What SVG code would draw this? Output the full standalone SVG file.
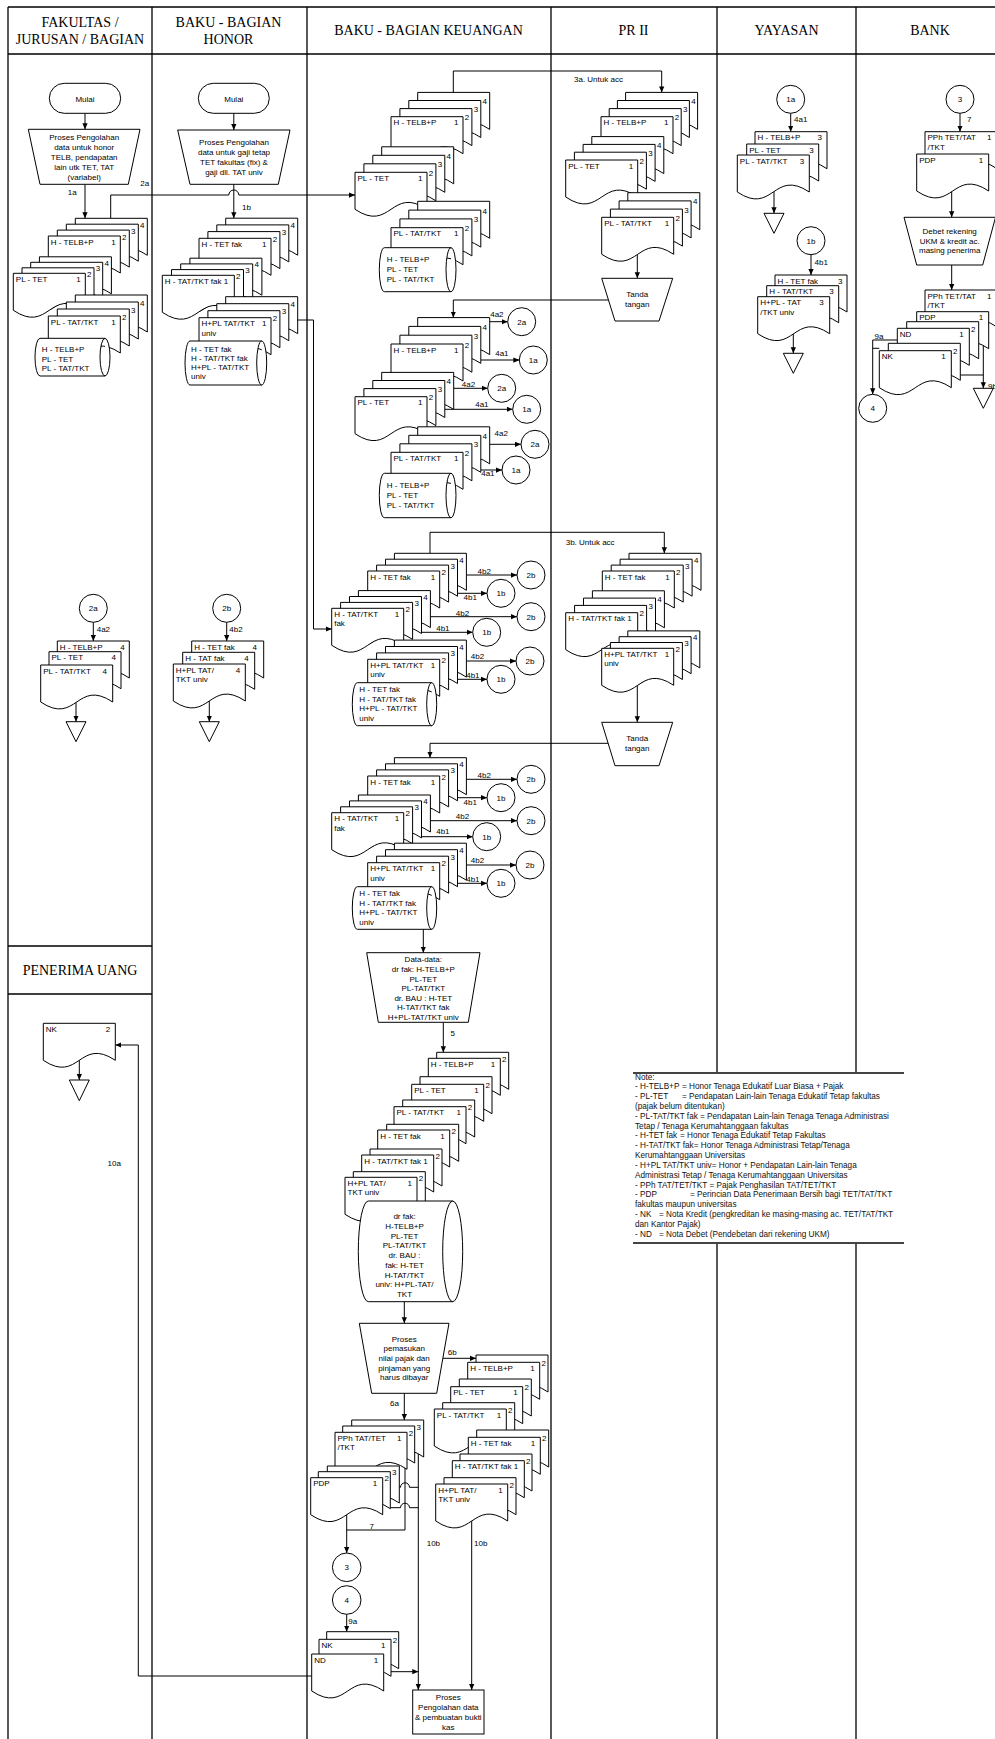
<svg xmlns="http://www.w3.org/2000/svg" width="995" height="1739" viewBox="0 0 995 1739">
<defs>
<style>
.ln{stroke:#000;stroke-width:1.3;fill:none}
.c{fill:none;stroke:#000;stroke-width:1}
.s{fill:#fff;stroke:#000;stroke-width:1}
.t{font-family:"Liberation Sans",Arial,sans-serif;font-size:8px;fill:#000}
.m{text-anchor:middle}
.e{text-anchor:end}
.h{font-family:"Liberation Serif","Times New Roman",serif;font-size:14px;text-anchor:middle;fill:#000}
.n{font-family:"Liberation Sans",Arial,sans-serif;font-size:8.2px;fill:#111}
</style>
<marker id="ah" viewBox="0 0 8 8" refX="8" refY="4" markerWidth="6" markerHeight="6" orient="auto" markerUnits="userSpaceOnUse"><path d="M0,0.5 L8,4 L0,7.5 z" fill="#000"/></marker>
<path id="pg" fill="#fff" stroke="#000" stroke-width="1" d="M0,0 H72 V37 C36,13 36,61 0,37 Z"/>
</defs>
<rect x="0" y="0" width="995" height="1739" fill="#fff"/>
<g id="lanes">
<path class="ln" d="M8,7 H1000 M8,54 H1000 M8,7 V1739 M152,7 V1739 M307,7 V1739 M551,7 V1739 M717,7 V1739 M856,7 V1739 M8,946 H152 M8,994 H152"/>
<text class="h" x="80" y="27">FAKULTAS /</text><text class="h" x="80" y="43.5">JURUSAN / BAGIAN</text>
<text class="h" x="228.5" y="27">BAKU - BAGIAN</text><text class="h" x="228.5" y="43.5">HONOR</text>
<text class="h" x="428.5" y="35">BAKU - BAGIAN KEUANGAN</text>
<text class="h" x="633.5" y="35">PR II</text>
<text class="h" x="786.5" y="35">YAYASAN</text>
<text class="h" x="930" y="35">BANK</text>
<text class="h" x="80" y="975">PENERIMA UANG</text>
</g>
<g id="note">
<rect x="633" y="1073" width="271" height="170" fill="#fff"/>
<path d="M633,1073 H904 M633,1243 H904" stroke="#444" stroke-width="1.8" fill="none"/>
<text class="n" x="635" y="1079.5">Note:</text>
<text class="n" y="1089.3"><tspan x="635">- H-TELB+P</tspan><tspan x="682">= Honor Tenaga Edukatif Luar Biasa + Pajak</tspan></text>
<text class="n" y="1099.1"><tspan x="635">- PL-TET</tspan><tspan x="682">= Pendapatan Lain-lain Tenaga Edukatif Tetap fakultas</tspan></text>
<text class="n" x="635" y="1109">(pajak belum ditentukan)</text>
<text class="n" x="635" y="1118.8">- PL-TAT/TKT fak = Pendapatan Lain-lain Tenaga Tenaga Administrasi</text>
<text class="n" x="635" y="1128.6">Tetap / Tenaga Kerumahtanggaan fakultas</text>
<text class="n" y="1138.4"><tspan x="635">- H-TET fak</tspan><tspan x="680">= Honor Tenaga Edukatif Tetap Fakultas</tspan></text>
<text class="n" x="635" y="1148.2">- H-TAT/TKT fak= Honor Tenaga Administrasi Tetap/Tenaga</text>
<text class="n" x="635" y="1158.1">Kerumahtanggaan Universitas</text>
<text class="n" x="635" y="1167.9">- H+PL TAT/TKT univ= Honor + Pendapatan Lain-lain Tenaga</text>
<text class="n" x="635" y="1177.7">Administrasi Tetap / Tenaga Kerumahtanggaan Universitas</text>
<text class="n" x="635" y="1187.5">- PPh TAT/TET/TKT = Pajak Penghasilan TAT/TET/TKT</text>
<text class="n" y="1197.3"><tspan x="635">- PDP</tspan><tspan x="690">= Perincian Data Penerimaan Bersih bagi TET/TAT/TKT</tspan></text>
<text class="n" x="635" y="1207.2">fakultas maupun universitas</text>
<text class="n" y="1217"><tspan x="635">- NK</tspan><tspan x="659">= Nota Kredit (pengkreditan ke masing-masing ac. TET/TAT/TKT</tspan></text>
<text class="n" x="635" y="1226.8">dan Kantor Pajak)</text>
<text class="n" y="1236.6"><tspan x="635">- ND</tspan><tspan x="659">= Nota Debet (Pendebetan dari rekening UKM)</tspan></text>
</g>
<g id="connectors">
<g class="c" marker-end="url(#ah)">
<path d="M85,113.3 V129.3"/>
<path d="M85,184.3 V218.3"/>
<path d="M110.7,218.3 V195 H228.8 A5,5 0 0 1 238.8,195 H355"/>
<path d="M233.8,113.3 V130"/>
<path d="M233.8,184.3 V218.2"/>
<path d="M297.7,320 H313.5 V629 H331.7"/>
<path d="M453.3,92.4 V71 H661.7 V92.4"/>
<path d="M637.3,252 V278.3"/>
<path d="M612,300 H453.3 V317.6"/>
<path d="M489.7,321.7 H507.7"/>
<path d="M480.8,360 H519.3"/>
<path d="M453.7,388.3 H487.7"/>
<path d="M444.8,409.3 H512.7"/>
<path d="M489.7,444.3 H521"/>
<path d="M480.8,470 H502"/>
<path d="M430,553.3 V532.3 H664.3 V553.3"/>
<path d="M466.4,575 H517"/>
<path d="M457.5,593.3 H487"/>
<path d="M430.4,616.7 H517"/>
<path d="M421.5,632.3 H472.7"/>
<path d="M466.4,661 H516"/>
<path d="M457.5,679.3 H487"/>
<path d="M637.3,684 V722.3"/>
<path d="M612,743.3 H430 V757.7"/>
<path d="M466.4,779.3 H517"/>
<path d="M457.5,797.7 H487"/>
<path d="M430.4,820.7 H517"/>
<path d="M421.5,836.7 H472.7"/>
<path d="M466.4,865 H516"/>
<path d="M457.5,883.3 H487"/>
<path d="M423.3,929.3 V952.7"/>
<path d="M443.3,1022.3 V1052.3"/>
<path d="M404.3,1301.7 V1323.3"/>
<path d="M442.8,1358.3 H476"/>
<path d="M404.3,1393.3 V1420"/>
<path d="M346.7,1512 V1553"/>
<path d="M418.3,1452 V1690"/>
<path d="M391,1671.7 H418.3"/>
<path d="M471.7,1518 V1690"/>
<path d="M346.7,1614.3 V1631.7"/>
<path d="M311.7,1676 H138.3 V1045 H115.3"/>
<path d="M79.3,1058 V1080"/>
<path d="M93.3,622.3 V641"/>
<path d="M76,700 V721.7"/>
<path d="M226.7,622.3 V641"/>
<path d="M209.3,700 V721.7"/>
<path d="M790.7,113.3 V131.7"/>
<path d="M774,190 V213.3"/>
<path d="M811,254.7 V275"/>
<path d="M793.3,332 V353.3"/>
<path d="M960,113.3 V131.7"/>
<path d="M951.7,190 V217.3"/>
<path d="M951.7,265 V290"/>
<path d="M897.3,340 H872.7 V394.3"/>
<path d="M983.3,330 V388.3"/>
</g>
<g class="c">
<path d="M405,1465 V1530 H346.7"/>
<path d="M399.3,1487.3 H400.5 A4.5,4.5 0 0 1 409.5,1487.3 H418.3"/>
<path d="M390.3,1507.7 H400.5 A4.5,4.5 0 0 1 409.5,1507.7 H418.3"/>
<path d="M879.3,348.3 H872.7"/>
<path d="M960.3,375 H983.3"/>
</g>
<g class="t">
<text x="67.7" y="194.5">1a</text>
<text x="140.3" y="185.5">2a</text>
<text x="242" y="209.5">1b</text>
<text x="574" y="81.5">3a. Untuk acc</text>
<text x="490.2" y="317">4a2</text>
<text x="495.2" y="355.5">4a1</text>
<text x="461.8" y="386.8">4a2</text>
<text x="475.2" y="407">4a1</text>
<text x="494.5" y="435.5">4a2</text>
<text x="481.2" y="475.5">4a1</text>
<text x="565.7" y="545">3b. Untuk acc</text>
<text x="477.5" y="573.5">4b2</text>
<text x="463.5" y="600">4b1</text>
<text x="455.8" y="615.5">4b2</text>
<text x="436.2" y="631">4b1</text>
<text x="470.8" y="658.8">4b2</text>
<text x="466.2" y="677.8">4b1</text>
<text x="477.5" y="777.5">4b2</text>
<text x="463.5" y="804.5">4b1</text>
<text x="455.8" y="819">4b2</text>
<text x="436.2" y="834">4b1</text>
<text x="470.8" y="862.5">4b2</text>
<text x="466.2" y="881.5">4b1</text>
<text x="450.5" y="1036">5</text>
<text x="447.7" y="1354.5">6b</text>
<text x="390" y="1406">6a</text>
<text x="369.5" y="1529">7</text>
<text x="426.7" y="1546">10b</text>
<text x="474" y="1546">10b</text>
<text x="348.2" y="1624">9a</text>
<text x="107.5" y="1166">10a</text>
<text x="96.7" y="632">4a2</text>
<text x="229.3" y="632">4b2</text>
<text x="794" y="122">4a1</text>
<text x="814.5" y="264.5">4b1</text>
<text x="967" y="122">7</text>
<text x="874.5" y="339">9a</text>
<text x="988" y="388.5">9b</text>
</g>
</g>
<g id="nodes">
<g id="mulai-fak"><rect class="s" x="49.3" y="83.3" width="71.4" height="30" rx="15"/><text class="t m" x="85" y="101.5">Mulai</text></g>
<g id="proses-fak"><path class="s" d="M28.3,129.3 H140 L128.3,184.3 H40 Z"/>
<text class="t m"><tspan x="84.2" y="140.1">Proses Pengolahan</tspan><tspan x="84.2" y="150.1">data untuk honor</tspan><tspan x="84.2" y="159.5">TELB, pendapatan</tspan><tspan x="84.2" y="169.5">lain utk TET, TAT</tspan><tspan x="84.2" y="179.5">(variabel)</tspan></text></g>
<g id="fa-htelb"><use href="#pg" x="75.3" y="218.3"/><use href="#pg" x="66.3" y="224.2"/><use href="#pg" x="57.3" y="230.1"/><use href="#pg" x="48.3" y="236"/>
<text class="t" x="50.8" y="244.5">H - TELB+P</text><text class="t e" x="115.8" y="244.5">1</text><text class="t" x="122.1" y="239.5">2</text><text class="t" x="131.1" y="233.6">3</text><text class="t" x="140.1" y="227.7">4</text></g>
<g id="fa-pltet"><use href="#pg" x="39.4" y="256.8"/><use href="#pg" x="30.7" y="262.3"/><use href="#pg" x="22" y="267.8"/><use href="#pg" x="13.3" y="273.3"/>
<text class="t" x="15.8" y="281.8">PL - TET</text><text class="t e" x="80.8" y="281.8">1</text><text class="t" x="87.1" y="276.8">2</text><text class="t" x="95.8" y="271.3">3</text><text class="t" x="104.5" y="265.8">4</text></g>
<g id="fa-pltat"><use href="#pg" x="75.3" y="295"/><use href="#pg" x="66.3" y="302"/><use href="#pg" x="57.3" y="309"/><use href="#pg" x="48.3" y="316"/>
<text class="t" x="50.8" y="324.5">PL - TAT/TKT</text><text class="t e" x="115.8" y="324.5">1</text><text class="t" x="122.1" y="319.5">2</text><text class="t" x="131.1" y="312.5">3</text><text class="t" x="140.1" y="305.5">4</text></g>
<g id="fa-arsip"><path class="s" d="M40,338.3 H105 A5,18.85 0 0 1 105,376 H40 A5,18.85 0 0 1 40,338.3 Z M105,338.3 A5,18.85 0 0 0 105,376"/>
<text class="t" x="41.7" y="352">H - TELB+P</text><text class="t" x="41.7" y="361.5">PL - TET</text><text class="t" x="41.7" y="371">PL - TAT/TKT</text></g>

<g id="mulai-honor"><rect class="s" x="198.3" y="83.3" width="71" height="30" rx="15"/><text class="t m" x="233.8" y="101.5">Mulai</text></g>
<g id="proses-honor"><path class="s" d="M177.7,130 H290 L278.3,184.3 H190 Z"/>
<text class="t m"><tspan x="234" y="145.1">Proses Pengolahan</tspan><tspan x="234" y="154.5">data untuk gaji tetap</tspan><tspan x="234" y="164.5">TET fakultas (fix) &amp;</tspan><tspan x="234" y="174.5">gaji dll. TAT univ</tspan></text></g>
<g id="bh-htet"><use href="#pg" x="225.7" y="218.2"/><use href="#pg" x="216.8" y="224.9"/><use href="#pg" x="207.9" y="231.6"/><use href="#pg" x="199" y="238.3"/>
<text class="t" x="201.5" y="246.8">H - TET fak</text><text class="t e" x="266.5" y="246.8">1</text><text class="t" x="272.8" y="241.8">2</text><text class="t" x="281.7" y="235.1">3</text><text class="t" x="290.6" y="228.4">4</text></g>
<g id="bh-htat"><use href="#pg" x="189.9" y="258.2"/><use href="#pg" x="180.7" y="263.9"/><use href="#pg" x="171.5" y="269.6"/><use href="#pg" x="162.3" y="275.3"/>
<text class="t" x="164.8" y="283.8">H - TAT/TKT fak 1</text><text class="t" x="236.1" y="278.8">2</text><text class="t" x="245.3" y="273.1">3</text><text class="t" x="254.5" y="267.4">4</text></g>
<g id="bh-hpl"><use href="#pg" x="225.7" y="296.7"/><use href="#pg" x="216.8" y="303.7"/><use href="#pg" x="207.9" y="310.7"/><use href="#pg" x="199" y="317.7"/>
<text class="t" x="201.5" y="326.2">H+PL TAT/TKT</text><text class="t e" x="266.5" y="326.2">1</text><text class="t" x="201.5" y="335.7">univ</text><text class="t" x="272.8" y="321.2">2</text><text class="t" x="281.7" y="314.2">3</text><text class="t" x="290.6" y="307.2">4</text></g>
<g id="bh-arsip"><path class="s" d="M190,341 H261.7 A5,22 0 0 1 261.7,385 H190 A5,22 0 0 1 190,341 Z M261.7,341 A5,22 0 0 0 261.7,385"/>
<text class="t" x="191" y="351.5">H - TET fak</text><text class="t" x="191" y="360.5">H - TAT/TKT fak</text><text class="t" x="191" y="369.5">H+PL - TAT/TKT</text><text class="t" x="191" y="378.5">univ</text></g>

<g id="ka-htelb"><use href="#pg" x="417.7" y="92.4"/><use href="#pg" x="408.8" y="100.5"/><use href="#pg" x="399.9" y="108.6"/><use href="#pg" x="391" y="116.7"/>
<text class="t" x="393.5" y="125.2">H - TELB+P</text><text class="t e" x="458.5" y="125.2">1</text><text class="t" x="464.8" y="120.2">2</text><text class="t" x="473.7" y="112.1">3</text><text class="t" x="482.6" y="104">4</text></g>
<g id="ka-pltet"><use href="#pg" x="381.7" y="146.8"/><use href="#pg" x="372.8" y="155.3"/><use href="#pg" x="363.9" y="163.8"/><use href="#pg" x="355" y="172.3"/>
<text class="t" x="357.5" y="180.8">PL - TET</text><text class="t e" x="422.5" y="180.8">1</text><text class="t" x="428.8" y="175.8">2</text><text class="t" x="437.7" y="167.3">3</text><text class="t" x="446.6" y="158.8">4</text></g>
<g id="ka-pltat"><use href="#pg" x="417.7" y="201.3"/><use href="#pg" x="408.8" y="210.1"/><use href="#pg" x="399.9" y="218.9"/><use href="#pg" x="391" y="227.7"/>
<text class="t" x="393.5" y="236.2">PL - TAT/TKT</text><text class="t e" x="458.5" y="236.2">1</text><text class="t" x="464.8" y="231.2">2</text><text class="t" x="473.7" y="222.4">3</text><text class="t" x="482.6" y="213.6">4</text></g>
<g id="ka-arsip"><path class="s" d="M384.3,247.7 H451 A5,22 0 0 1 451,291.7 H384.3 A5,22 0 0 1 384.3,247.7 Z M451,247.7 A5,22 0 0 0 451,291.7"/>
<text class="t" x="386.7" y="262">H - TELB+P</text><text class="t" x="386.7" y="272">PL - TET</text><text class="t" x="386.7" y="282">PL - TAT/TKT</text></g>

<g id="pa-htelb"><use href="#pg" x="625.6" y="92.4"/><use href="#pg" x="617.4" y="100.5"/><use href="#pg" x="609.2" y="108.6"/><use href="#pg" x="601" y="116.7"/>
<text class="t" x="603.5" y="125.2">H - TELB+P</text><text class="t e" x="668.5" y="125.2">1</text><text class="t" x="674.8" y="120.2">2</text><text class="t" x="683" y="112.1">3</text><text class="t" x="691.2" y="104">4</text></g>
<g id="pa-pltet"><use href="#pg" x="591.8" y="136.6"/><use href="#pg" x="583.1" y="144.4"/><use href="#pg" x="574.4" y="152.2"/><use href="#pg" x="565.7" y="160"/>
<text class="t" x="568.2" y="168.5">PL - TET</text><text class="t e" x="633.2" y="168.5">1</text><text class="t" x="639.5" y="163.5">2</text><text class="t" x="648.2" y="155.7">3</text><text class="t" x="656.9" y="147.9">4</text></g>
<g id="pa-pltat"><use href="#pg" x="627.8" y="192.7"/><use href="#pg" x="619.1" y="200.9"/><use href="#pg" x="610.4" y="209.1"/><use href="#pg" x="601.7" y="217.3"/>
<text class="t" x="604.2" y="225.8">PL - TAT/TKT</text><text class="t e" x="669.2" y="225.8">1</text><text class="t" x="675.5" y="220.8">2</text><text class="t" x="684.2" y="212.6">3</text><text class="t" x="692.9" y="204.4">4</text></g>
<g id="tanda-1"><path class="s" d="M601.7,278.3 H672.7 L659,321 H615 Z"/><text class="t m" x="637.2" y="296.8">Tanda</text><text class="t m" x="637.2" y="306.8">tangan</text></g>

<g id="kb-htelb"><use href="#pg" x="417.7" y="317.6"/><use href="#pg" x="408.8" y="326.4"/><use href="#pg" x="399.9" y="335.2"/><use href="#pg" x="391" y="344"/>
<text class="t" x="393.5" y="352.5">H - TELB+P</text><text class="t e" x="458.5" y="352.5">1</text><text class="t" x="464.8" y="347.5">2</text><text class="t" x="473.7" y="338.7">3</text><text class="t" x="482.6" y="329.9">4</text></g>
<g id="kb-pltet"><use href="#pg" x="381.7" y="372.4"/><use href="#pg" x="372.8" y="380.5"/><use href="#pg" x="363.9" y="388.6"/><use href="#pg" x="355" y="396.7"/>
<text class="t" x="357.5" y="405.2">PL - TET</text><text class="t e" x="422.5" y="405.2">1</text><text class="t" x="428.8" y="400.2">2</text><text class="t" x="437.7" y="392.1">3</text><text class="t" x="446.6" y="384">4</text></g>
<g id="kb-pltat"><use href="#pg" x="417.7" y="426.8"/><use href="#pg" x="408.8" y="435.3"/><use href="#pg" x="399.9" y="443.8"/><use href="#pg" x="391" y="452.3"/>
<text class="t" x="393.5" y="460.8">PL - TAT/TKT</text><text class="t e" x="458.5" y="460.8">1</text><text class="t" x="464.8" y="455.8">2</text><text class="t" x="473.7" y="447.3">3</text><text class="t" x="482.6" y="438.8">4</text></g>
<g id="kb-arsip"><path class="s" d="M384.3,473.3 H451 A5,22.2 0 0 1 451,517.7 H384.3 A5,22.2 0 0 1 384.3,473.3 Z M451,473.3 A5,22.2 0 0 0 451,517.7"/>
<text class="t" x="386.7" y="487.5">H - TELB+P</text><text class="t" x="386.7" y="497.5">PL - TET</text><text class="t" x="386.7" y="507.5">PL - TAT/TKT</text></g>
<g id="kb-conn">
<circle class="s" cx="521.7" cy="321.7" r="14"/><text class="t m" x="521.7" y="324.5">2a</text>
<circle class="s" cx="533.3" cy="360" r="14"/><text class="t m" x="533.3" y="362.8">1a</text>
<circle class="s" cx="501.7" cy="388.3" r="14"/><text class="t m" x="501.7" y="391.1">2a</text>
<circle class="s" cx="526.7" cy="409.3" r="14"/><text class="t m" x="526.7" y="412.1">1a</text>
<circle class="s" cx="535" cy="444.3" r="14"/><text class="t m" x="535" y="447.1">2a</text>
<circle class="s" cx="516" cy="470" r="14"/><text class="t m" x="516" y="472.8">1a</text>
</g>

<g id="kc-htet"><use href="#pg" x="394.4" y="553.3"/><use href="#pg" x="385.5" y="559.2"/><use href="#pg" x="376.6" y="565.1"/><use href="#pg" x="367.7" y="571"/>
<text class="t" x="370.2" y="579.5">H - TET fak</text><text class="t e" x="435.2" y="579.5">1</text><text class="t" x="441.5" y="574.5">2</text><text class="t" x="450.4" y="568.6">3</text><text class="t" x="459.3" y="562.7">4</text></g>
<g id="kc-htat"><use href="#pg" x="358.4" y="590.6"/><use href="#pg" x="349.5" y="596.5"/><use href="#pg" x="340.6" y="602.4"/><use href="#pg" x="331.7" y="608.3"/>
<text class="t" x="334.2" y="616.8">H - TAT/TKT</text><text class="t e" x="399.2" y="616.8">1</text><text class="t" x="334.2" y="626.3">fak</text><text class="t" x="405.5" y="611.8">2</text><text class="t" x="414.4" y="605.9">3</text><text class="t" x="423.3" y="600">4</text></g>
<g id="kc-hpl"><use href="#pg" x="394.4" y="640.1"/><use href="#pg" x="385.5" y="646.5"/><use href="#pg" x="376.6" y="652.9"/><use href="#pg" x="367.7" y="659.3"/>
<text class="t" x="370.2" y="667.8">H+PL TAT/TKT</text><text class="t e" x="435.2" y="667.8">1</text><text class="t" x="370.2" y="677.3">univ</text><text class="t" x="441.5" y="662.8">2</text><text class="t" x="450.4" y="656.4">3</text><text class="t" x="459.3" y="650">4</text></g>
<g id="kc-arsip"><path class="s" d="M357.3,682.7 H431.7 A5,21.5 0 0 1 431.7,725.7 H357.3 A5,21.5 0 0 1 357.3,682.7 Z M431.7,682.7 A5,21.5 0 0 0 431.7,725.7"/>
<text class="t" x="359.3" y="692">H - TET fak</text><text class="t" x="359.3" y="701.7">H - TAT/TKT fak</text><text class="t" x="359.3" y="711">H+PL - TAT/TKT</text><text class="t" x="359.3" y="720.7">univ</text></g>
<g id="kc-conn">
<circle class="s" cx="531" cy="575" r="14"/><text class="t m" x="531" y="577.8">2b</text>
<circle class="s" cx="501" cy="593.3" r="14"/><text class="t m" x="501" y="596.1">1b</text>
<circle class="s" cx="531" cy="616.7" r="14"/><text class="t m" x="531" y="619.5">2b</text>
<circle class="s" cx="486.7" cy="632.3" r="14"/><text class="t m" x="486.7" y="635.1">1b</text>
<circle class="s" cx="530" cy="661" r="14"/><text class="t m" x="530" y="663.8">2b</text>
<circle class="s" cx="501" cy="679.3" r="14"/><text class="t m" x="501" y="682.1">1b</text>
</g>

<g id="pc-htet"><use href="#pg" x="629" y="553.3"/><use href="#pg" x="620.1" y="559.2"/><use href="#pg" x="611.2" y="565.1"/><use href="#pg" x="602.3" y="571"/>
<text class="t" x="604.8" y="579.5">H - TET fak</text><text class="t e" x="669.8" y="579.5">1</text><text class="t" x="676.1" y="574.5">2</text><text class="t" x="685" y="568.6">3</text><text class="t" x="693.9" y="562.7">4</text></g>
<g id="pc-htat"><use href="#pg" x="592.4" y="590.8"/><use href="#pg" x="583.5" y="598.1"/><use href="#pg" x="574.6" y="605.4"/><use href="#pg" x="565.7" y="612.7"/>
<text class="t" x="568.2" y="621.2">H - TAT/TKT fak 1</text><text class="t" x="639.5" y="616.2">2</text><text class="t" x="648.4" y="608.9">3</text><text class="t" x="657.3" y="601.6">4</text></g>
<g id="pc-hpl"><use href="#pg" x="627.8" y="630.9"/><use href="#pg" x="619.1" y="636.7"/><use href="#pg" x="610.4" y="642.5"/><use href="#pg" x="601.7" y="648.3"/>
<text class="t" x="604.2" y="656.8">H+PL TAT/TKT</text><text class="t e" x="669.2" y="656.8">1</text><text class="t" x="604.2" y="666.3">univ</text><text class="t" x="675.5" y="651.8">2</text><text class="t" x="684.2" y="646">3</text><text class="t" x="692.9" y="640.2">4</text></g>
<g id="tanda-2"><path class="s" d="M601.7,722.3 H672.7 L659,765.7 H615 Z"/><text class="t m" x="637.2" y="741">Tanda</text><text class="t m" x="637.2" y="751">tangan</text></g>

<g id="kd-htet"><use href="#pg" x="394.4" y="757.7"/><use href="#pg" x="385.5" y="763.8"/><use href="#pg" x="376.6" y="769.9"/><use href="#pg" x="367.7" y="776"/>
<text class="t" x="370.2" y="784.5">H - TET fak</text><text class="t e" x="435.2" y="784.5">1</text><text class="t" x="441.5" y="779.5">2</text><text class="t" x="450.4" y="773.4">3</text><text class="t" x="459.3" y="767.3">4</text></g>
<g id="kd-htat"><use href="#pg" x="358.4" y="795"/><use href="#pg" x="349.5" y="800.9"/><use href="#pg" x="340.6" y="806.8"/><use href="#pg" x="331.7" y="812.7"/>
<text class="t" x="334.2" y="821.2">H - TAT/TKT</text><text class="t e" x="399.2" y="821.2">1</text><text class="t" x="334.2" y="830.7">fak</text><text class="t" x="405.5" y="816.2">2</text><text class="t" x="414.4" y="810.3">3</text><text class="t" x="423.3" y="804.4">4</text></g>
<g id="kd-hpl"><use href="#pg" x="394.4" y="843.2"/><use href="#pg" x="385.5" y="849.7"/><use href="#pg" x="376.6" y="856.2"/><use href="#pg" x="367.7" y="862.7"/>
<text class="t" x="370.2" y="871.2">H+PL TAT/TKT</text><text class="t e" x="435.2" y="871.2">1</text><text class="t" x="370.2" y="880.7">univ</text><text class="t" x="441.5" y="866.2">2</text><text class="t" x="450.4" y="859.7">3</text><text class="t" x="459.3" y="853.2">4</text></g>
<g id="kd-arsip"><path class="s" d="M357.3,886.7 H431.7 A5,21.3 0 0 1 431.7,929.3 H357.3 A5,21.3 0 0 1 357.3,886.7 Z M431.7,886.7 A5,21.3 0 0 0 431.7,929.3"/>
<text class="t" x="359.3" y="896.3">H - TET fak</text><text class="t" x="359.3" y="905.5">H - TAT/TKT fak</text><text class="t" x="359.3" y="915">H+PL - TAT/TKT</text><text class="t" x="359.3" y="925">univ</text></g>
<g id="kd-conn">
<circle class="s" cx="531" cy="779.3" r="14"/><text class="t m" x="531" y="782.1">2b</text>
<circle class="s" cx="501" cy="797.7" r="14"/><text class="t m" x="501" y="800.5">1b</text>
<circle class="s" cx="531" cy="820.7" r="14"/><text class="t m" x="531" y="823.5">2b</text>
<circle class="s" cx="486.7" cy="836.7" r="14"/><text class="t m" x="486.7" y="839.5">1b</text>
<circle class="s" cx="530" cy="865" r="14"/><text class="t m" x="530" y="867.8">2b</text>
<circle class="s" cx="501" cy="883.3" r="14"/><text class="t m" x="501" y="886.1">1b</text>
</g>

<g id="data-data"><path class="s" d="M366.7,952.7 H480 L468.3,1022.3 H378.3 Z"/>
<text class="t m"><tspan x="423.3" y="962.1">Data-data:</tspan><tspan x="423.3" y="971.8">dr fak: H-TELB+P</tspan><tspan x="423.3" y="981.5">PL-TET</tspan><tspan x="423.3" y="991.1">PL-TAT/TKT</tspan><tspan x="423.3" y="1000.5">dr. BAU : H-TET</tspan><tspan x="423.3" y="1010.1">H-TAT/TKT fak</tspan><tspan x="423.3" y="1019.8">H+PL-TAT/TKT univ</tspan></text></g>
<g id="ke-htelb"><use href="#pg" x="436.7" y="1052.3"/><use href="#pg" x="428.3" y="1058.3"/>
<text class="t" x="430.8" y="1066.8">H - TELB+P</text><text class="t e" x="495.3" y="1066.8">1</text><text class="t" x="502.1" y="1061.8">2</text></g>
<g id="ke-pltet"><use href="#pg" x="420" y="1076.7"/><use href="#pg" x="411.7" y="1084.3"/>
<text class="t" x="414.2" y="1092.8">PL - TET</text><text class="t e" x="478.7" y="1092.8">1</text><text class="t" x="485.5" y="1087.8">2</text></g>
<g id="ke-pltat"><use href="#pg" x="402.7" y="1100"/><use href="#pg" x="394" y="1106.7"/>
<text class="t" x="396.5" y="1115.2">PL - TAT/TKT</text><text class="t e" x="461" y="1115.2">1</text><text class="t" x="467.8" y="1110.2">2</text></g>
<g id="ke-htet"><use href="#pg" x="386.7" y="1124.3"/><use href="#pg" x="377.7" y="1130"/>
<text class="t" x="380.2" y="1138.5">H - TET fak</text><text class="t e" x="444.7" y="1138.5">1</text><text class="t" x="451.5" y="1133.5">2</text></g>
<g id="ke-htat"><use href="#pg" x="370" y="1149"/><use href="#pg" x="361.7" y="1155"/>
<text class="t" x="364.2" y="1163.5">H - TAT/TKT fak 1</text><text class="t" x="435.5" y="1158.5">2</text></g>
<g id="ke-hpl"><use href="#pg" x="353.3" y="1171.7"/><use href="#pg" x="345" y="1177.3"/>
<text class="t" x="347.5" y="1185.8">H+PL TAT/</text><text class="t e" x="412" y="1185.8">1</text><text class="t" x="347.5" y="1195.3">TKT univ</text><text class="t" x="418.8" y="1180.8">2</text></g>
<g id="ke-arsip"><path class="s" d="M368.3,1201 H452.7 A10,50.35 0 0 1 452.7,1301.7 H368.3 A10,50.35 0 0 1 368.3,1201 Z M452.7,1201 A10,50.35 0 0 0 452.7,1301.7"/>
<text class="t m"><tspan x="404.5" y="1219">dr fak:</tspan><tspan x="404.5" y="1228.8">H-TELB+P</tspan><tspan x="404.5" y="1238.5">PL-TET</tspan><tspan x="404.5" y="1248.3">PL-TAT/TKT</tspan><tspan x="404.5" y="1258">dr. BAU :</tspan><tspan x="404.5" y="1267.7">fak: H-TET</tspan><tspan x="404.5" y="1277.5">H-TAT/TKT</tspan><tspan x="404.5" y="1287.3">univ: H+PL-TAT/</tspan><tspan x="404.5" y="1297">TKT</tspan></text></g>
<g id="proses-pajak"><path class="s" d="M359.3,1323.3 H449 L436.7,1393.3 H371.7 Z"/>
<text class="t m"><tspan x="404.2" y="1342.1">Proses</tspan><tspan x="404.2" y="1351.3">pemasukan</tspan><tspan x="404.2" y="1361.1">nilai pajak dan</tspan><tspan x="404.2" y="1370.5">pinjaman yang</tspan><tspan x="404.2" y="1380.1">harus dibayar</tspan></text></g>
<g id="kf-htelb"><use href="#pg" x="476" y="1355"/><use href="#pg" x="467.7" y="1362.3"/>
<text class="t" x="470.2" y="1370.8">H - TELB+P</text><text class="t e" x="534.7" y="1370.8">1</text><text class="t" x="541.5" y="1365.8">2</text></g>
<g id="kf-pltet"><use href="#pg" x="459.3" y="1379"/><use href="#pg" x="450.7" y="1386.7"/>
<text class="t" x="453.2" y="1395.2">PL - TET</text><text class="t e" x="517.7" y="1395.2">1</text><text class="t" x="524.5" y="1390.2">2</text></g>
<g id="kf-pltat"><use href="#pg" x="442.7" y="1402.7"/><use href="#pg" x="434.3" y="1409"/>
<text class="t" x="436.8" y="1417.5">PL - TAT/TKT</text><text class="t e" x="501.3" y="1417.5">1</text><text class="t" x="508.1" y="1412.5">2</text></g>
<g id="kf-htet"><use href="#pg" x="476.7" y="1430"/><use href="#pg" x="468.3" y="1437.3"/>
<text class="t" x="470.8" y="1445.8">H - TET fak</text><text class="t e" x="535.3" y="1445.8">1</text><text class="t" x="542.1" y="1440.8">2</text></g>
<g id="kf-htat"><use href="#pg" x="460" y="1454"/><use href="#pg" x="452.3" y="1460.7"/>
<text class="t" x="454.8" y="1469.2">H - TAT/TKT fak 1</text><text class="t" x="526.1" y="1464.2">2</text></g>
<g id="kf-hpl"><use href="#pg" x="444" y="1477.7"/><use href="#pg" x="435.7" y="1484"/>
<text class="t" x="438.2" y="1492.5">H+PL TAT/</text><text class="t e" x="502.7" y="1492.5">1</text><text class="t" x="438.2" y="1502">TKT univ</text><text class="t" x="509.5" y="1487.5">2</text></g>
<g id="kg-pph"><use href="#pg" x="351.7" y="1420"/><use href="#pg" x="342.7" y="1426"/><use href="#pg" x="335" y="1432.3"/>
<text class="t" x="337.5" y="1440.8">PPh TAT/TET</text><text class="t e" x="401.5" y="1440.8">1</text><text class="t" x="337.5" y="1450.3">/TKT</text><text class="t" x="408.8" y="1435.8">2</text><text class="t" x="416.5" y="1429.5">3</text></g>
<g id="kg-pdp"><use href="#pg" x="327.3" y="1466"/><use href="#pg" x="318.3" y="1471.7"/><use href="#pg" x="310.7" y="1477.7"/>
<text class="t" x="313.2" y="1486.2">PDP</text><text class="t e" x="377.2" y="1486.2">1</text><text class="t" x="384.5" y="1481.2">2</text><text class="t" x="392.1" y="1475.2">3</text></g>
<g id="circle-3"><circle class="s" cx="346.7" cy="1567.3" r="14.3"/><text class="t m" x="346.7" y="1570.1">3</text></g>
<g id="circle-4"><circle class="s" cx="346.7" cy="1600" r="14.3"/><text class="t m" x="346.7" y="1602.8">4</text></g>
<g id="kh-nk-nd"><use href="#pg" x="326.7" y="1631.7"/><use href="#pg" x="319" y="1639.3"/><use href="#pg" x="311.7" y="1654"/>
<text class="t" x="321.5" y="1647.8">NK</text><text class="t e" x="385.5" y="1647.8">1</text><text class="t" x="392.8" y="1642.8">2</text><text class="t" x="314.2" y="1662.5">ND</text><text class="t e" x="378.2" y="1662.5">1</text></g>
<g id="proses-kas"><rect class="s" x="412.7" y="1690" width="71.3" height="44"/>
<text class="t m"><tspan x="448.3" y="1700">Proses</tspan><tspan x="448.3" y="1709.5">Pengolahan data</tspan><tspan x="448.3" y="1719.5">&amp; pembuatan bukti</tspan><tspan x="448.3" y="1729.5">kas</tspan></text></g>

<g id="fak-2a"><circle class="s" cx="93.3" cy="608.3" r="14"/><text class="t m" x="93.3" y="611.1">2a</text></g>
<g id="fak-arsip4"><use href="#pg" x="57.3" y="641"/><use href="#pg" x="49" y="651.7"/><use href="#pg" x="40.7" y="665"/>
<text class="t" x="59.8" y="649.5">H - TELB+P</text><text class="t e" x="124.7" y="649.5">4</text><text class="t" x="51.5" y="660.2">PL - TET</text><text class="t e" x="116" y="660.2">4</text><text class="t" x="43.2" y="673.5">PL - TAT/TKT</text><text class="t e" x="107" y="673.5">4</text></g>
<g id="fak-end"><path class="s" d="M66,721.7 H86 L76,741.7 Z"/></g>
<g id="honor-2b"><circle class="s" cx="226.7" cy="608.3" r="14"/><text class="t m" x="226.7" y="611.1">2b</text></g>
<g id="honor-arsip4"><use href="#pg" x="191.7" y="641"/><use href="#pg" x="182.7" y="652.3"/><use href="#pg" x="173.3" y="664"/>
<text class="t" x="194.2" y="649.5">H - TET fak</text><text class="t e" x="257" y="649.5">4</text><text class="t" x="185.2" y="660.8">H - TAT fak</text><text class="t e" x="248.7" y="660.8">4</text><text class="t" x="175.8" y="672.5">H+PL TAT/</text><text class="t e" x="240.3" y="672.5">4</text><text class="t" x="175.8" y="682">TKT univ</text></g>
<g id="honor-end"><path class="s" d="M199.3,721.7 H219.3 L209.3,741.7 Z"/></g>

<g id="yay-1a"><circle class="s" cx="790.7" cy="99.3" r="14"/><text class="t m" x="790.7" y="102.1">1a</text></g>
<g id="yay-arsip3a"><use href="#pg" x="755" y="131.7"/><use href="#pg" x="746.7" y="144"/><use href="#pg" x="737.3" y="155"/>
<text class="t" x="757.5" y="140.2">H - TELB+P</text><text class="t e" x="822" y="140.2">3</text><text class="t" x="749.2" y="152.5">PL - TET</text><text class="t e" x="813.7" y="152.5">3</text><text class="t" x="739.8" y="163.5">PL - TAT/TKT</text><text class="t e" x="804.3" y="163.5">3</text></g>
<g id="yay-end1"><path class="s" d="M764,213.3 H784 L774,233.3 Z"/></g>
<g id="yay-1b"><circle class="s" cx="811" cy="240.7" r="14"/><text class="t m" x="811" y="243.5">1b</text></g>
<g id="yay-arsip3b"><use href="#pg" x="775" y="275"/><use href="#pg" x="766.7" y="285.7"/><use href="#pg" x="757.7" y="296.7"/>
<text class="t" x="777.5" y="283.5">H - TET fak</text><text class="t e" x="842.5" y="283.5">3</text><text class="t" x="769.2" y="294.2">H - TAT/TKT</text><text class="t e" x="833.7" y="294.2">3</text><text class="t" x="760.2" y="305.2">H+PL - TAT</text><text class="t e" x="823.7" y="305.2">3</text><text class="t" x="760.2" y="314.7">/TKT univ</text></g>
<g id="yay-end2"><path class="s" d="M783.3,353.3 H803.3 L793.3,373.3 Z"/></g>

<g id="bank-3"><circle class="s" cx="960" cy="99.3" r="14"/><text class="t m" x="960" y="102.1">3</text></g>
<g id="bank-in"><use href="#pg" x="925" y="131.7"/><use href="#pg" x="916.7" y="154"/>
<text class="t" x="927.5" y="140.2">PPh TET/TAT</text><text class="t e" x="991.5" y="140.2">1</text><text class="t" x="927.5" y="149.7">/TKT</text><text class="t" x="919.2" y="162.5">PDP</text><text class="t e" x="983.2" y="162.5">1</text></g>
<g id="bank-debet"><path class="s" d="M904,217.3 H995.5 L982.7,265 H916.7 Z"/>
<text class="t m"><tspan x="949.7" y="234">Debet rekening</tspan><tspan x="949.7" y="243.5">UKM &amp; kredit ac.</tspan><tspan x="949.7" y="253">masing penerima</tspan></text></g>
<g id="bank-out"><use href="#pg" x="925" y="290"/><use href="#pg" x="916.7" y="311.7"/><use href="#pg" x="906.7" y="321.7"/><use href="#pg" x="897.3" y="328.3"/><use href="#pg" x="888.3" y="343.3"/><use href="#pg" x="879.3" y="350.7"/>
<text class="t" x="927.5" y="298.5">PPh TET/TAT</text><text class="t e" x="991.5" y="298.5">1</text><text class="t" x="927.5" y="308">/TKT</text><text class="t" x="919.2" y="320.2">PDP</text><text class="t e" x="983.2" y="320.2">1</text>
<text class="t" x="899.8" y="336.8">ND</text><text class="t e" x="963.8" y="336.8">1</text><text class="t" x="971.1" y="331.8">2</text>
<text class="t" x="881.8" y="359.2">NK</text><text class="t e" x="945.8" y="359.2">1</text><text class="t" x="953.1" y="354.2">2</text></g>
<g id="bank-4"><circle class="s" cx="872.7" cy="408.3" r="14"/><text class="t m" x="872.7" y="411.1">4</text></g>
<g id="bank-end"><path class="s" d="M973.3,388.3 H993.3 L983.3,408.3 Z"/></g>

<g id="penerima-nk"><use href="#pg" x="43.3" y="1023.3"/><text class="t" x="45.8" y="1031.8">NK</text><text class="t e" x="110.3" y="1031.8">2</text></g>
<g id="penerima-end"><path class="s" d="M69.3,1080 H89.3 L79.3,1100.7 Z"/></g>
</g>
</svg>
